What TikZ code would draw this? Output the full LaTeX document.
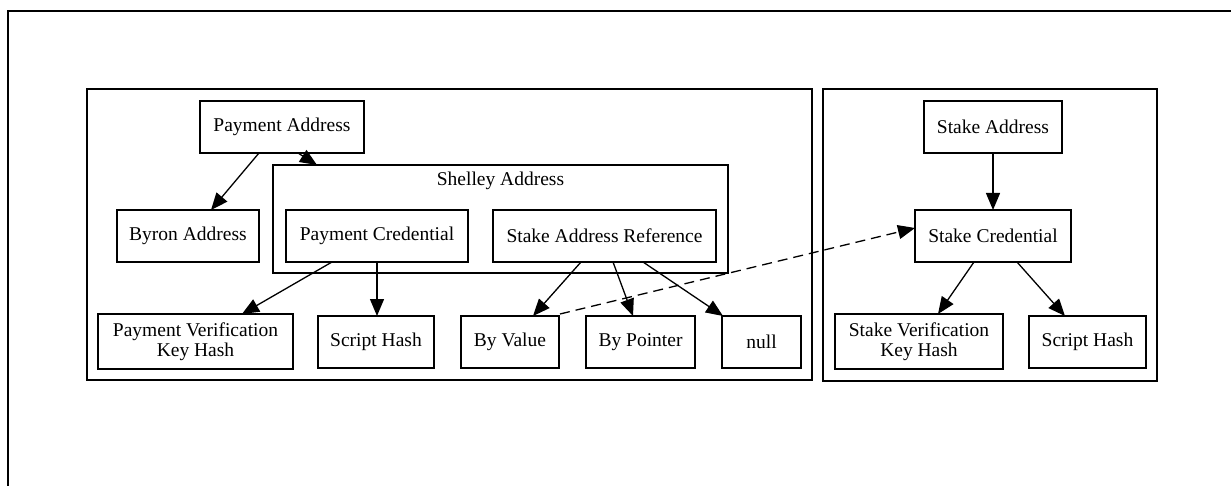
\documentclass[tikz,border=0pt]{standalone}
\usepackage{fontspec}
\setmainfont{Liberation Serif}
\usetikzlibrary{arrows.meta,calc}

\begin{document}
\begin{tikzpicture}[x=1pt,y=-1pt,
  line width=1.3pt,
  every node/.style={font=\fontsize{19.5}{20.5}\selectfont, inner sep=0pt, outer sep=0pt},
  box/.style={draw, rectangle, align=center, minimum height=52pt},
  tallbox/.style={box, minimum height=55pt},
  cluster/.style={draw, rectangle},
  link/.style={-{Triangle[length=17pt,width=14pt]}},
  refer/.style={link, dash pattern=on 10pt off 6pt}]

\useasboundingbox (0,0) rectangle (1231,486);

% page frame
\draw (8,490) -- (8,11) -- (1235,11);

% clusters
\node[cluster, minimum width=725pt, minimum height=291pt] (payclu) at (449.5,234.5) {};
\node[cluster, minimum width=334pt, minimum height=292pt] (stakeclu) at (990,235) {};
\node[cluster, minimum width=455pt, minimum height=108pt] (shelley) at (500.5,219) {};
\node (shelleylbl) at (500.5,181) {Shelley Address};

% payment side
\node[box, minimum width=164pt] (pa) at (282,127) {Payment Address};
\node[box, minimum width=142pt] (byron) at (188,236) {Byron Address};
\node[box, minimum width=182pt] (pc) at (377,236) {Payment Credential};
\node[box, minimum width=223pt] (sar) at (604.5,236) {Stake Address Reference};
\node[tallbox, minimum width=195pt] (pvkh) at (195.5,341.5) {Payment Verification\\Key Hash};
\node[box, minimum width=116pt] (sh1) at (376,342) {Script Hash};
\node[box, minimum width=98pt] (bv) at (510,342) {By Value};
\node[box, minimum width=109pt] (bp) at (640.5,342) {By Pointer};
\node[box, minimum width=79pt] (nul) at (761.5,342) {null};

% stake side
\node[box, minimum width=138pt] (sa) at (993,127) {Stake Address};
\node[box, minimum width=156pt] (sc) at (993,236) {Stake Credential};
\node[tallbox, minimum width=168pt] (svkh) at (919,341.5) {Stake Verification\\Key Hash};
\node[box, minimum width=117pt] (sh2) at (1087.5,342) {Script Hash};

% connectors
\draw[link] ([xshift=-23pt]pa.south) -- ([xshift=23pt]byron.north);
\draw[link] ([xshift=16pt]pa.south) -- ([xshift=-183.5pt]shelley.north);
\draw[link] ([xshift=-45pt]pc.south) -- ([xshift=46.5pt]pvkh.north);
\draw[link] (pc.south) -- (pc.south |- sh1.north);
\draw[link] ([xshift=-23.5pt]sar.south) -- ([xshift=23pt]bv.north);
\draw[link] ([xshift=8.5pt]sar.south) -- ([xshift=-7.5pt]bp.north);
\draw[link] ([xshift=38.5pt]sar.south) -- ([xshift=-38.5pt]nul.north);
\draw[refer] ([xshift=1pt,yshift=2pt]bv.north east) -- ([yshift=8pt]sc.west);
\draw[link] (sa.south) -- (sc.north);
\draw[link] ([xshift=-19pt]sc.south) -- ([xshift=19pt]svkh.north);
\draw[link] ([xshift=24pt]sc.south) -- ([xshift=-22.5pt]sh2.north);

\end{tikzpicture}
\end{document}
